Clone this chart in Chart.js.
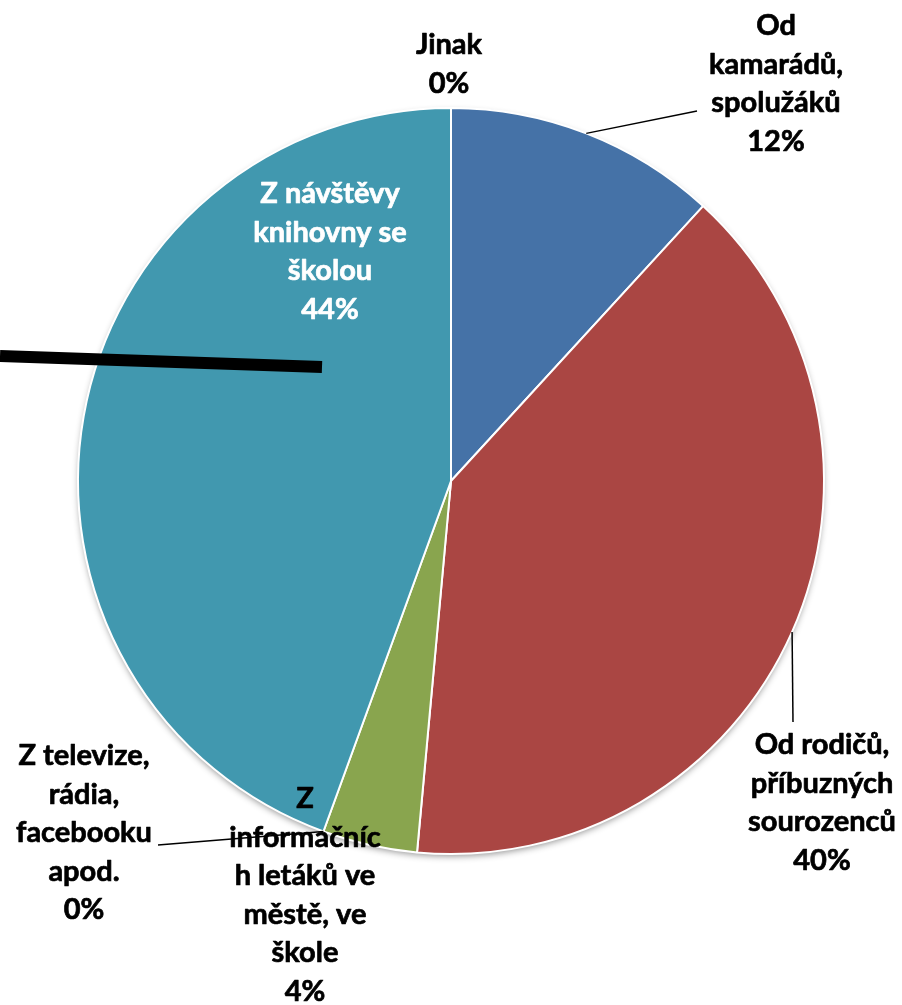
<!DOCTYPE html>
<html>
<head>
<meta charset="utf-8">
<script src="https://cdn.jsdelivr.net/npm/chart.js@4/dist/chart.umd.min.js"></script>
<style>
html,body{margin:0;padding:0;background:#fff;}
#wrap{width:902px;height:1005px;position:relative;}
</style>
</head>
<body>
<div id="wrap"><canvas id="c"></canvas></div>
<script>
// ---- data ----
const categories = [
  ["Od","kamarádů,","spolužáků"],
  ["Od rodičů,","příbuzných","sourozenců"],
  ["Z","informačníc","h letáků ve","městě, ve","škole"],
  ["Z televize,","rádia,","facebooku","apod."],
  ["Z návštěvy","knihovny se","školou"],
  ["Jinak"]
];
const values = [11.8, 39.6, 4.1, 0, 44.4, 0];
const colors = ["#4572A7", "#AA4643", "#89A54E", "#71588F", "#4198AF", "#DB843D"];

// ---- label layout (positions / styles) ----
const FONT = "bold 29px Lato";
const LINE_H = 38.5;
const labelLayout = [
  {x: 776, y: 35,  color: "#000", leader: {to: [697, 111]}},
  {x: 822, y: 754, color: "#000", leader: {to: [793, 722]}},
  {x: 305, y: 808, color: "#000"},
  {x: 84,  y: 765, color: "#000", leader: {to: [158, 845]}},
  {x: 330, y: 203, color: "#fff"},
  {x: 449, y: 54,  color: "#000"}
];

const shadowPlugin = {
  id: 'pieShadow',
  beforeDatasetsDraw(chart) {
    const arc = chart.getDatasetMeta(0).data[0];
    if (!arc) return;
    const ctx = chart.ctx;
    ctx.save();
    ctx.shadowColor = 'rgba(0,0,0,0.45)';
    ctx.shadowBlur = 7;
    ctx.shadowOffsetY = 3;
    ctx.fillStyle = '#fff';
    ctx.beginPath();
    ctx.arc(arc.x, arc.y, arc.outerRadius - 1, 0, Math.PI * 2);
    ctx.fill();
    ctx.restore();
  }
};

const labelPlugin = {
  id: 'pieLabels',
  afterDatasetsDraw(chart) {
    const ctx = chart.ctx;
    const meta = chart.getDatasetMeta(0);
    const data = chart.data.datasets[0].data;
    const total = data.reduce((a, b) => a + b, 0);
    ctx.save();
    // leader lines
    meta.data.forEach((arc, i) => {
      const lay = labelLayout[i];
      if (!lay.leader) return;
      const mid = (arc.startAngle + arc.endAngle) / 2;
      const r = arc.outerRadius;
      const sx = arc.x + r * Math.cos(mid);
      const sy = arc.y + r * Math.sin(mid);
      ctx.strokeStyle = '#000';
      ctx.lineWidth = 1.5;
      ctx.beginPath();
      ctx.moveTo(sx, sy);
      ctx.lineTo(lay.leader.to[0], lay.leader.to[1]);
      ctx.stroke();
    });
    // labels
    ctx.font = FONT;
    ctx.textAlign = 'center';
    ctx.textBaseline = 'alphabetic';
    ctx.lineJoin = 'round';
    meta.data.forEach((arc, i) => {
      const lay = labelLayout[i];
      const lines = chart.data.labels[i].slice();
      lines.push(Math.round(data[i] / total * 100) + '%');
      ctx.fillStyle = lay.color;
      ctx.strokeStyle = lay.color;
      ctx.lineWidth = 0.7;
      lines.forEach((t, k) => {
        ctx.fillText(t, lay.x, lay.y + k * LINE_H);
        ctx.strokeText(t, lay.x, lay.y + k * LINE_H);
      });
    });
    // thick black stroke on the left
    ctx.strokeStyle = '#000';
    ctx.lineWidth = 12;
    ctx.lineCap = 'butt';
    ctx.beginPath();
    ctx.moveTo(0, 356);
    ctx.lineTo(322, 367);
    ctx.stroke();
    ctx.restore();
  }
};

new Chart(document.getElementById('c'), {
  type: 'pie',
  data: {
    labels: categories,
    datasets: [{
      data: values,
      backgroundColor: colors,
      borderColor: '#fff',
      borderWidth: 2
    }]
  },
  options: {
    responsive: true,
    maintainAspectRatio: false,
    animation: false,
    layout: {padding: {left: 77, right: 77, top: 107, bottom: 150}},
    plugins: {legend: {display: false}, tooltip: {enabled: false}}
  },
  plugins: [shadowPlugin, labelPlugin]
});
</script>
</body>
</html>
